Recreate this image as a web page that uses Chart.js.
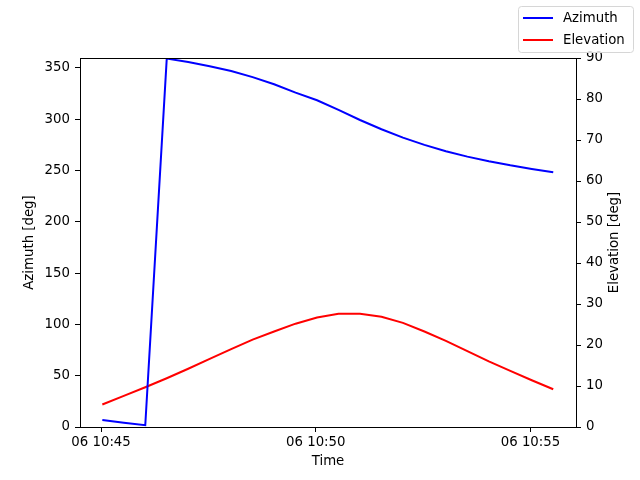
<!DOCTYPE html>
<html>
<head>
<meta charset="utf-8">
<script src="https://cdn.jsdelivr.net/npm/chart.js@4/dist/chart.umd.min.js"></script>
<style>
  html, body { margin: 0; padding: 0; background: #fff; }
  #wrap { width: 640px; height: 480px; }
</style>
</head>
<body>
<div id="wrap"><canvas id="sunChart" width="640" height="480"></canvas></div>
<script>
// minutes after 06 10:45
const timeMin = [0.03, 0.53, 1.03, 1.53, 2.03, 2.53, 3.03, 3.53, 4.03, 4.53, 5.03,
                 5.53, 6.03, 6.53, 7.03, 7.53, 8.03, 8.53, 9.03, 9.53, 10.03, 10.53];
const azimuth = [6.8, 4.2, 1.7, 359.0, 355.8, 351.5, 347.0, 341.0, 334.0, 325.8, 318.4,
                 309.0, 299.2, 290.2, 282.0, 274.9, 268.7, 263.5, 259.0, 255.0, 251.5, 248.2];
const elevation = [5.5, 7.6, 9.7, 11.9, 14.2, 16.6, 19.0, 21.3, 23.3, 25.2, 26.7,
                   27.6, 27.6, 26.9, 25.4, 23.3, 21.0, 18.5, 16.0, 13.7, 11.4, 9.2];
const xTicks = [0, 5, 10];
const xTickLabels = ['06 10:45', '06 10:50', '06 10:55'];
const azTicks = [0, 50, 100, 150, 200, 250, 300, 350];
const elTicks = [0, 10, 20, 30, 40, 50, 60, 70, 80, 90];

const FONT = { family: 'DejaVu Sans', size: 13.3 };

// matplotlib-like legend box in the top right corner
const boxLegend = {
  id: 'boxLegend',
  afterDraw(chart) {
    const ctx = chart.ctx;
    const x0 = 518.5, y0 = 6.5, w = 115, h = 46;
    ctx.save();
    ctx.beginPath();
    ctx.roundRect(x0, y0, w, h, 3);
    ctx.fillStyle = 'rgba(255,255,255,0.8)';
    ctx.fill();
    ctx.strokeStyle = '#d6d6d6';
    ctx.lineWidth = 1;
    ctx.stroke();
    ctx.font = FONT.size + 'px ' + FONT.family;
    ctx.textBaseline = 'middle';
    chart.data.datasets.forEach((ds, i) => {
      const y = y0 + 11.5 + i * 22;
      ctx.beginPath();
      ctx.moveTo(523, y);
      ctx.lineTo(553, y);
      ctx.strokeStyle = ds.borderColor;
      ctx.lineWidth = 2;
      ctx.stroke();
      ctx.fillStyle = '#000';
      ctx.fillText(ds.label, 563, y + 1);
    });
    ctx.restore();
  }
};

// full frame around the plot area + right axis title read bottom-to-top
const frame = {
  id: 'frame',
  afterDraw(chart) {
    const a = chart.chartArea, ctx = chart.ctx;
    ctx.save();
    ctx.strokeStyle = '#000';
    ctx.lineWidth = 1;
    ctx.strokeRect(a.left + 0.5, a.top + 0.5, a.right - a.left, a.bottom - a.top);
    ctx.font = FONT.size + 'px ' + FONT.family;
    ctx.fillStyle = '#000';
    ctx.textAlign = 'center';
    ctx.textBaseline = 'middle';
    ctx.translate(615, (a.top + a.bottom) / 2);
    ctx.rotate(-Math.PI / 2);
    ctx.fillText(chart.options.scales.y1.titleText, 0, 0);
    ctx.restore();
  }
};

const tickGrid = { drawOnChartArea: false, color: '#000', tickLength: 5, tickWidth: 1 };

new Chart(document.getElementById('sunChart').getContext('2d'), {
  type: 'line',
  data: {
    datasets: [
      { label: 'Azimuth', data: timeMin.map((t, i) => ({ x: t, y: azimuth[i] })),
        borderColor: '#0000ff', borderWidth: 2, pointRadius: 0, tension: 0, yAxisID: 'y' },
      { label: 'Elevation', data: timeMin.map((t, i) => ({ x: t, y: elevation[i] })),
        borderColor: '#ff0000', borderWidth: 2, pointRadius: 0, tension: 0, yAxisID: 'y1' }
    ]
  },
  options: {
    responsive: false,
    animation: false,
    devicePixelRatio: 1,
    layout: { padding: { top: 58, left: 0, right: 0, bottom: 0 } },
    plugins: { legend: { display: false }, tooltip: { enabled: false } },
    scales: {
      x: {
        type: 'linear', min: -0.49, max: 11.06,
        afterBuildTicks: s => { s.ticks = xTicks.map(v => ({ value: v })); },
        afterFit: s => { s.height = 53; },
        ticks: { color: '#000', font: FONT, padding: 3, maxRotation: 0,
                 callback: v => xTickLabels[xTicks.indexOf(v)] },
        grid: tickGrid,
        border: { color: '#000', width: 1 },
        title: { display: true, text: 'Time', color: '#000', font: FONT, padding: { top: 0, bottom: 10 } }
      },
      y: {
        type: 'linear', position: 'left', min: 0, max: 359.6,
        afterBuildTicks: s => { s.ticks = azTicks.map(v => ({ value: v })); },
        afterFit: s => { s.width = 80; },
        ticks: { color: '#000', font: FONT, padding: 5 },
        grid: tickGrid,
        border: { color: '#000', width: 1 },
        title: { display: true, text: 'Azimuth [deg]', color: '#000', font: FONT, padding: { top: 22, bottom: 0 } }
      },
      y1: {
        type: 'linear', position: 'right', min: 0, max: 90,
        titleText: 'Elevation [deg]',
        afterBuildTicks: s => { s.ticks = elTicks.map(v => ({ value: v })); },
        afterFit: s => { s.width = 64; },
        ticks: { color: '#000', font: FONT, padding: 5 },
        grid: tickGrid,
        border: { color: '#000', width: 1 },
        title: { display: false }
      }
    }
  },
  plugins: [frame, boxLegend]
});
</script>
</body>
</html>
